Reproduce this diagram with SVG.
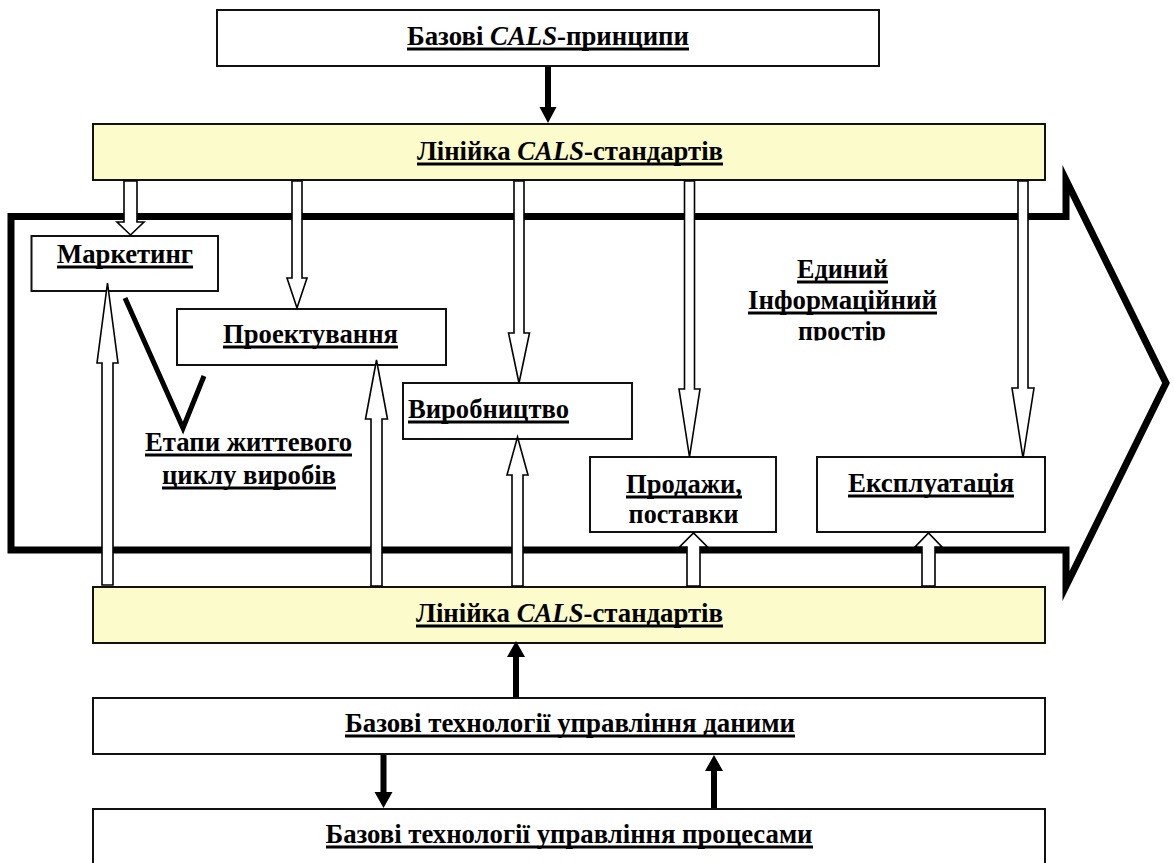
<svg xmlns="http://www.w3.org/2000/svg" width="1174" height="863" viewBox="0 0 1174 863">
<style>
  .box { fill: #ffffff; stroke: #111111; stroke-width: 2; }
  .bar { fill: #fcfbcb; stroke: #111111; stroke-width: 2; }
  .t { font-family: "Liberation Serif", "Times New Roman", serif; font-weight: bold; font-size: 27px; fill: #000; }
  .it { font-style: italic; }
  .ul { stroke: #000; stroke-width: 3; }
  .hollow { fill: #ffffff; stroke: #000; stroke-width: 1.6; stroke-linejoin: miter; }
  .solid { fill: #000; stroke: none; }
  .outline { fill: none; stroke: #000; stroke-width: 7; stroke-linejoin: miter; stroke-miterlimit: 10; }
  .callout { fill: none; stroke: #000; stroke-width: 5; stroke-linejoin: miter; }
</style>
<defs>
  <clipPath id="clipProstir"><rect x="760" y="300" width="170" height="40.5"/></clipPath>
</defs>
<rect x="0" y="0" width="1174" height="863" fill="#ffffff"/>

<g id="info-space">
  <polygon class="outline" points="11,216.5 1066,216.5 1066,180 1166,383 1066,586 1066,550 11,550"/>
  <text class="t" x="842.5" y="278" text-anchor="middle" textLength="91" lengthAdjust="spacingAndGlyphs">Единий</text>
  <line class="ul" x1="797" y1="282" x2="888" y2="282"/>
  <text class="t" x="842.5" y="309" text-anchor="middle" textLength="189" lengthAdjust="spacingAndGlyphs">Інформаційний</text>
  <line class="ul" x1="748" y1="313" x2="937" y2="313"/>
  <text class="t" x="842" y="339.5" text-anchor="middle" textLength="88" lengthAdjust="spacingAndGlyphs" clip-path="url(#clipProstir)">простір</text>
</g>

<g id="cals-principles">
  <rect class="box" x="217" y="10" width="662" height="56"/>
  <text class="t" x="548" y="45" text-anchor="middle" textLength="282" lengthAdjust="spacingAndGlyphs">Базові <tspan class="it">CALS</tspan>-принципи</text>
  <line class="ul" x1="407" y1="49" x2="689" y2="49"/>
</g>

<g id="standards-top">
  <rect class="bar" x="93" y="124" width="952" height="56"/>
  <text class="t" x="570" y="160" text-anchor="middle" textLength="306" lengthAdjust="spacingAndGlyphs">Лінійка <tspan class="it">CALS</tspan>-стандартів</text>
  <line class="ul" x1="417" y1="164" x2="723" y2="164"/>
</g>

<g id="marketing">
  <rect class="box" x="31.5" y="236" width="186.5" height="55"/>
  <text class="t" x="125" y="263" text-anchor="middle" textLength="136" lengthAdjust="spacingAndGlyphs">Маркетинг</text>
  <line class="ul" x1="57" y1="267" x2="193" y2="267"/>
</g>

<g id="design">
  <rect class="box" x="177" y="309" width="269" height="56"/>
  <text class="t" x="310.5" y="343" text-anchor="middle" textLength="175" lengthAdjust="spacingAndGlyphs">Проектування</text>
  <line class="ul" x1="223" y1="347" x2="398" y2="347"/>
</g>

<g id="production">
  <rect class="box" x="403" y="383" width="229" height="56"/>
  <text class="t" x="408" y="418" textLength="161" lengthAdjust="spacingAndGlyphs">Виробництво</text>
  <line class="ul" x1="408" y1="422" x2="569" y2="422"/>
</g>

<g id="sales">
  <rect class="box" x="590" y="457" width="186" height="75"/>
  <text class="t" x="684" y="493" text-anchor="middle" textLength="116" lengthAdjust="spacingAndGlyphs">Продажи,</text>
  <line class="ul" x1="626" y1="497" x2="742" y2="497"/>
  <text class="t" x="683.6" y="522.5" text-anchor="middle" textLength="110" lengthAdjust="spacingAndGlyphs">поставки</text>
</g>

<g id="operation">
  <rect class="box" x="817" y="457" width="228" height="75"/>
  <text class="t" x="931" y="492" text-anchor="middle" textLength="166" lengthAdjust="spacingAndGlyphs">Експлуатація</text>
  <line class="ul" x1="848" y1="496" x2="1014" y2="496"/>
</g>

<g id="lifecycle-label">
  <text class="t" x="248.5" y="451" text-anchor="middle" textLength="207" lengthAdjust="spacingAndGlyphs">Етапи життевого</text>
  <line class="ul" x1="145" y1="455" x2="352" y2="455"/>
  <text class="t" x="249" y="484" text-anchor="middle" textLength="174" lengthAdjust="spacingAndGlyphs">циклу виробів</text>
  <line class="ul" x1="162" y1="488" x2="336" y2="488"/>
</g>

<g id="standards-bottom">
  <rect class="bar" x="93" y="587" width="952" height="56"/>
  <text class="t" x="569.5" y="622" text-anchor="middle" textLength="307" lengthAdjust="spacingAndGlyphs">Лінійка <tspan class="it">CALS</tspan>-стандартів</text>
  <line class="ul" x1="416" y1="626" x2="723" y2="626"/>
</g>

<g id="data-tech">
  <rect class="box" x="93" y="698" width="952" height="56"/>
  <text class="t" x="570" y="732" text-anchor="middle" textLength="450" lengthAdjust="spacingAndGlyphs">Базові технології управління даними</text>
  <line class="ul" x1="345" y1="736" x2="795" y2="736"/>
</g>

<g id="process-tech">
  <rect class="box" x="93" y="809" width="952" height="70"/>
  <text class="t" x="569" y="843" text-anchor="middle" textLength="487" lengthAdjust="spacingAndGlyphs">Базові технології управління процесами</text>
  <line class="ul" x1="326" y1="847" x2="813" y2="847"/>
</g>

<g id="connectors">
  <polyline class="callout" points="125,298 183,428 204,376"/>
  <!-- hollow down arrows from top standards bar -->
  <polygon class="hollow" points="124,181 137,181 137,222 144,222 130.5,235 117,222 124,222"/>
  <polygon class="hollow" points="292,181 302,181 302,278 307,278 297,308 287,278 292,278"/>
  <polygon class="hollow" points="514,181 524,181 524,333 529.5,333 519,383 508.5,333 514,333"/>
  <polygon class="hollow" points="684.5,181 694.5,181 694.5,389 700,389 689.5,457 679,389 684.5,389"/>
  <polygon class="hollow" points="1018,181 1028,181 1028,388 1034,388 1023,458 1012,388 1018,388"/>
  <!-- hollow up arrows from bottom standards bar -->
  <polygon class="hollow" points="102,585 113,585 113,363 118,363 107.5,283 97,363 102,363"/>
  <polygon class="hollow" points="371,586 382,586 382,419 387.5,419 376.5,360 365.5,419 371,419"/>
  <polygon class="hollow" points="512,586 523,586 523,475 528,475 517.5,437 507,475 512,475"/>
  <polygon class="hollow" points="687,586 700,586 700,547 707.5,547 693.5,533 679.5,547 687,547"/>
  <polygon class="hollow" points="922,586 935,586 935,547 942,547 928.5,533 915,547 922,547"/>
  <!-- solid arrows -->
  <polygon class="solid" points="545,67 551,67 551,107 556.5,107 548,123 539.5,107 545,107"/>
  <polygon class="solid" points="513,697 519,697 519,657 525,657 516,641 507,657 513,657"/>
  <polygon class="solid" points="380.5,755 386.5,755 386.5,792 392.5,792 383.5,808 374.5,792 380.5,792"/>
  <polygon class="solid" points="711,808 717,808 717,771 723,771 714,755 705,771 711,771"/>
</g>
</svg>
